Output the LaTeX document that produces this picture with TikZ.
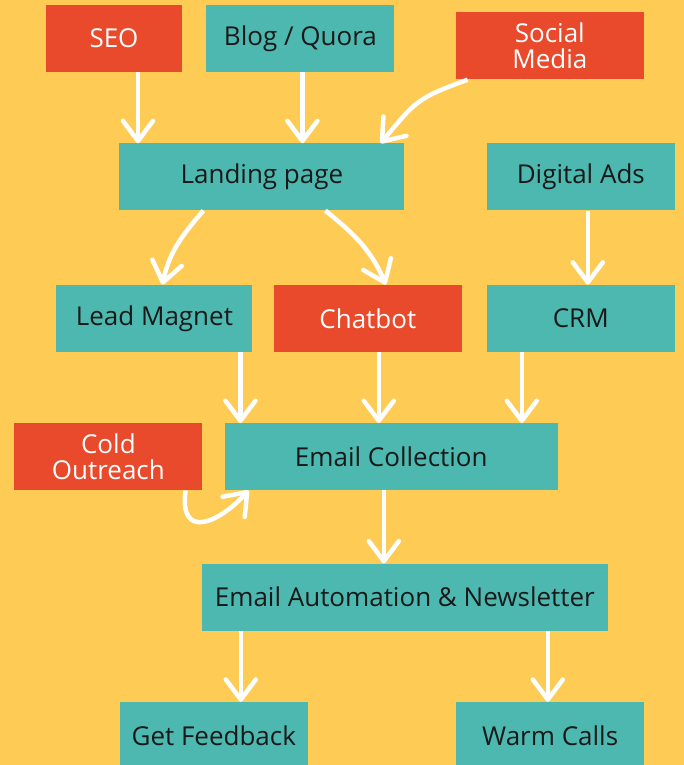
\documentclass[tikz,border=0pt]{standalone}
\usepackage{fontspec}
\setmainfont{Open Sans}
\usetikzlibrary{positioning,arrows.meta}
\definecolor{bg}{RGB}{254,203,84}
\definecolor{tealbox}{RGB}{77,184,176}
\definecolor{redbox}{RGB}{232,74,43}

\begin{document}
\begin{tikzpicture}[x=1pt,y=1pt,>={Straight Barb[length=20pt,width=30pt,round]},
  every node/.style={rectangle,inner sep=0pt,minimum width=188pt,minimum height=67pt,
    align=center,font=\fontsize{26}{26}\selectfont},
  tl/.style={fill=tealbox,text=black!90},
  rd/.style={fill=redbox,text=white},
  flow/.style={->,white,line width=4.5pt}]

  \fill[bg] (0,0) rectangle (684,-765);
  \useasboundingbox (0,0) rectangle (684,-765);

  \node (seo) [rd,minimum width=136pt] at (114,-38.5) {SEO};
  \node (blog) [tl,right=24pt of seo] {Blog / Quora};
  \node (soc) [rd,right=61pt of blog,yshift=-7.5pt] {Social\\Media};
  \node (land) [tl,minimum width=285pt,below=71pt of blog,xshift=-38.5pt] {Landing page};
  \node (ads) [tl,right=82pt of land] {Digital Ads};
  \node (mag) [tl,minimum width=196pt,below=74pt of land,xshift=-107.5pt] {Lead Magnet};
  \node (chat) [rd,right=21pt of mag] {Chatbot};
  \node (crm) [tl,below=74pt of ads] {CRM};
  \node (coll) [tl,minimum width=333pt,below=71pt of chat,xshift=23.5pt] {Email Collection};
  \node (cold) [rd,left=22pt of coll] {Cold\\Outreach};
  \node (am) [tl,minimum width=406pt,below=73pt of coll,xshift=13.5pt] {Email Automation \& Newsletter};
  \node (fb) [tl,below=71pt of am,xshift=-191pt] {Get Feedback};
  \node (warm) [tl,right=148pt of fb] {Warm Calls};

  \draw[flow] ([xshift=24pt]seo.south) -- ([xshift=24pt]seo.south |- land.north);
  \draw[flow] ([xshift=2pt]blog.south) -- ([xshift=2pt]blog.south |- land.north);
  \draw[flow] ([xshift=12pt]soc.south west) to[out=200,in=50,looseness=1.3] ([xshift=-24pt]land.north east);
  \draw[flow] ([xshift=-58.5pt]land.south) to[out=229,in=78] ([xshift=8pt]mag.north);
  \draw[flow] ([xshift=63.5pt]land.south) to[out=321,in=113] ([xshift=18pt]chat.north);
  \draw[flow] ([xshift=7pt]ads.south) -- ([xshift=7pt]ads.south |- crm.north);
  \draw[flow] ([xshift=86pt]mag.south) -- ([xshift=86pt]mag.south |- coll.north);
  \draw[flow] ([xshift=11pt]chat.south) -- ([xshift=11pt]chat.south |- coll.north);
  \draw[flow] ([xshift=-59pt]crm.south) -- ([xshift=-59pt]crm.south |- coll.north);
  \draw[flow] ([xshift=-17pt]cold.south east) .. controls +(-7,-50) and +(-30,-33) .. ([xshift=24pt]coll.south west);
  \draw[flow] ([xshift=-7.5pt]coll.south) -- ([xshift=-7.5pt]coll.south |- am.north);
  \draw[flow] ([xshift=-164pt]am.south) -- ([xshift=-164pt]am.south |- fb.north);
  \draw[flow] ([xshift=143pt]am.south) -- ([xshift=143pt]am.south |- warm.north);
\end{tikzpicture}
\end{document}
